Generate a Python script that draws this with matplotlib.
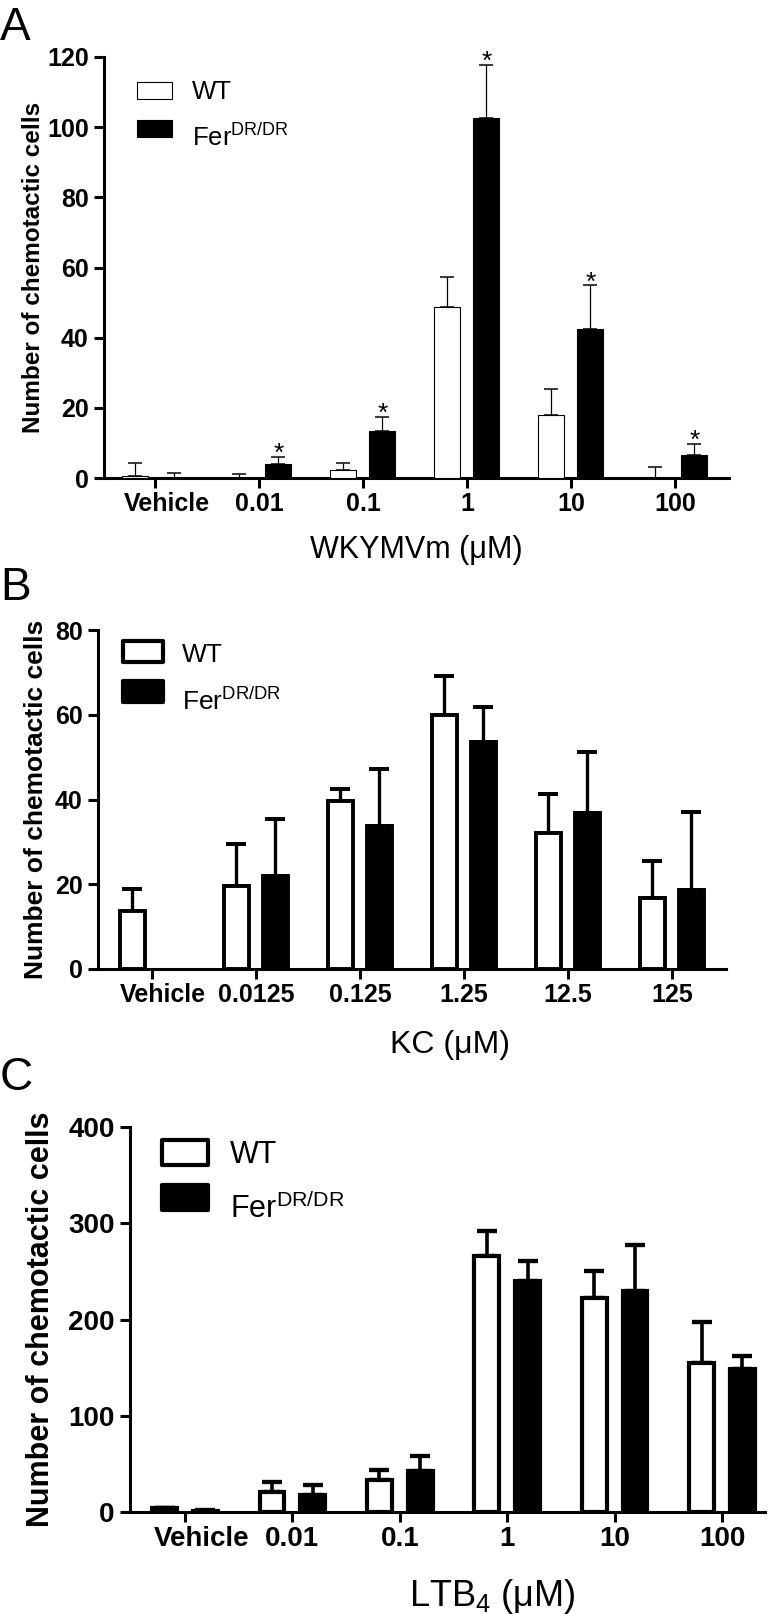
import numpy as np
import matplotlib
matplotlib.use("Agg")
import matplotlib.pyplot as plt
from matplotlib.patches import Rectangle
from matplotlib.transforms import blended_transform_factory, ScaledTranslation

plt.rcParams['font.family'] = ['Liberation Sans', 'DejaVu Sans']
plt.rcParams['mathtext.fontset'] = 'custom'
plt.rcParams['mathtext.rm'] = 'Liberation Sans'
plt.rcParams['mathtext.it'] = 'Liberation Sans:italic'
plt.rcParams['mathtext.bf'] = 'Liberation Sans:bold'

# ---- data ----
a_labels = ["Vehicle", "0.01", "0.1", "1", "10", "100"]
a_wt = [0.5, 0.1, 2.2, 48.8, 18.0, 0.0]
a_wt_err = [3.7, 0.9, 2.1, 8.4, 7.3, 3.1]
a_fer = [0.1, 4.1, 13.4, 102.7, 42.4, 6.5]
a_fer_err = [1.2, 2.0, 4.1, 15.1, 12.5, 3.2]
a_star = [False, True, True, True, True, True]

b_labels = ["Vehicle", "0.0125", "0.125", "1.25", "12.5", "125"]
b_wt = [13.8, 19.7, 39.7, 59.9, 32.2, 16.8]
b_wt_err = [5.1, 9.8, 2.8, 9.2, 9.0, 8.6]
b_fer = [0.0, 21.9, 33.8, 53.6, 36.7, 18.7]
b_fer_err = [0.0, 13.6, 13.3, 8.2, 14.6, 18.3]

c_labels = ["Vehicle", "0.01", "0.1", "1", "10", "100"]
c_wt = [3.8, 20.8, 32.9, 265.8, 221.9, 154.3]
c_wt_err = [0.8, 10.2, 10.6, 26.4, 28.4, 43.4]
c_fer = [1.0, 18.1, 42.3, 240.0, 229.5, 148.2]
c_fer_err = [0.6, 10.3, 16.3, 20.9, 48.4, 13.6]

W, H = 777, 1614
fig = plt.figure(figsize=(W / 100, H / 100), dpi=100)


def rect(l, t, r, b):
    return [l / W, 1 - b / H, (r - l) / W, (b - t) / H]


def fx(x):
    return x / W


def fy(y):
    return 1 - y / H


def bars(ax, x, vals, errs, width, fc, edge_lw, err_lw, cap):
    vals = np.array(vals, dtype=float)
    errs = np.array(errs, dtype=float)
    show = ~((vals == 0) & (errs == 0))
    lws = [edge_lw if v > 0 else 0 for v in vals]
    ax.bar(x, vals, width, facecolor=fc, edgecolor='black',
           linewidth=lws, zorder=3)
    ax.errorbar(x[show], vals[show],
                yerr=[np.zeros(show.sum()), errs[show]], fmt='none',
                ecolor='black', elinewidth=err_lw, capsize=cap,
                capthick=err_lw * 1.2, zorder=2)


def panel(box, xlim, ymax, ystep, labels, wt, wt_err, fer, fer_err,
          width, off, edge_lw, err_lw, cap, tick_fs, ylab_fs, ylab_x,
          veh_shift):
    ax = fig.add_axes(rect(*box))
    x = np.arange(len(labels))
    bars(ax, x - off, wt, wt_err, width, 'white', edge_lw, err_lw, cap)
    bars(ax, x + off, fer, fer_err, width, 'black', edge_lw, err_lw, cap)
    ax.set_xlim(*xlim)
    ax.set_ylim(0, ymax)
    ax.set_yticks(np.arange(0, ymax + 1, ystep))
    ax.set_xticks(x)
    ax.set_xticklabels(labels, fontsize=tick_fs, fontweight='bold')
    for t in ax.get_yticklabels():
        t.set_fontsize(tick_fs)
        t.set_fontweight('bold')
    for s in ['top', 'right']:
        ax.spines[s].set_visible(False)
    for s in ['left', 'bottom']:
        ax.spines[s].set_linewidth(2.2)
    ax.tick_params(axis='both', direction='out', width=2.2, length=7)
    ax.tick_params(axis='x', pad=3)
    ax.tick_params(axis='y', pad=4)
    # "Vehicle" sits a little right of its tick in the original
    lab0 = ax.get_xticklabels()[0]
    lab0.set_transform(lab0.get_transform() +
                       ScaledTranslation(veh_shift / 100, 0,
                                         fig.dpi_scale_trans))
    ax.set_ylabel("Number of chemotactic cells", fontsize=ylab_fs,
                  fontweight='bold')
    tr = blended_transform_factory(fig.transFigure, ax.transAxes)
    ax.yaxis.set_label_coords(fx(ylab_x), 0.5, transform=tr)
    return ax


def legend(x0, x1, y_rows, h, lw, tx, fs, baselines):
    r1 = Rectangle((fx(x0), fy(y_rows[0] + h)), (x1 - x0) / W, h / H,
                   facecolor='white', edgecolor='black', linewidth=lw,
                   joinstyle='round', transform=fig.transFigure)
    r2 = Rectangle((fx(x0), fy(y_rows[1] + h)), (x1 - x0) / W, h / H,
                   facecolor='black', edgecolor='black', linewidth=lw,
                   joinstyle='round', transform=fig.transFigure)
    fig.add_artist(r1)
    fig.add_artist(r2)
    fig.text(fx(tx), fy(baselines[0]), "WT", fontsize=fs, va='baseline')
    fig.text(fx(tx), fy(baselines[1]), r"Fer$^{\mathrm{DR/DR}}$",
             fontsize=fs, va='baseline')


# ---- panel A ----
axA = panel((104, 57, 729, 478), (-0.49, 5.52), 120, 20, a_labels,
            a_wt, a_wt_err, a_fer, a_fer_err, 0.25, 0.1875, 0.8, 0.9, 5,
            18, 17.5, 45, 12)
xs = np.arange(len(a_labels))
for i in range(len(a_labels)):
    if a_star[i]:
        axA.annotate("*", (xs[i] + 0.1875, a_fer[i] + a_fer_err[i]),
                     xytext=(0, -3), textcoords='offset points',
                     ha='center', va='baseline', fontsize=19,
                     annotation_clip=False)
fig.text(fx(416), fy(558), "WKYMVm (\u03bcM)", fontsize=22, ha='center',
         va='baseline')
fig.text(fx(0), fy(40), "A", fontsize=33, va='baseline')
legend(137, 172, (82, 120), 17, 0.8, 192, 18.5, (99, 146))

# ---- panel B ----
axB = panel((98, 630, 726, 969), (-0.519, 5.52), 80, 20, b_labels,
            b_wt, b_wt_err, b_fer, b_fer_err, 0.245, 0.1875, 2.8, 2.4, 7,
            18, 19, 48, 11)
fig.text(fx(450), fy(1053), "KC (\u03bcM)", fontsize=23, ha='center',
         va='baseline')
fig.text(fx(0), fy(600), "B", fontsize=33, va='baseline')
legend(123, 163, (641, 681), 21, 3, 182, 19, (662, 710))

# ---- panel C ----
axC = panel((130, 1127, 765, 1512), (-0.512, 5.40), 400, 100, c_labels,
            c_wt, c_wt_err, c_fer, c_fer_err, 0.23, 0.19, 3, 2.6, 7,
            20, 22, 56, 17)
fig.text(fx(492), fy(1606), "LTB$_4$ (\u03bcM)", fontsize=26, ha='center',
         va='baseline')
fig.text(fx(0), fy(1090), "C", fontsize=33, va='baseline')
legend(162, 208, (1140, 1185), 25, 3, 230, 22, (1163, 1218))

fig.savefig("out.png", dpi=100)
